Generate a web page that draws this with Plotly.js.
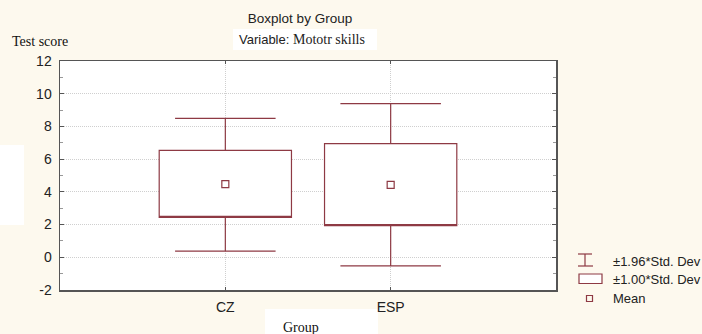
<!DOCTYPE html>
<html>
<head>
<meta charset="utf-8">
<script src="https://cdn.plot.ly/plotly-3.0.1.min.js"></script>
<style>html,body{margin:0;padding:0;background:#fdf9ee;}</style>
</head>
<body>
<div id="chart" style="width:702px;height:334px;"></div>
<script>
// Data
const groups = ['CZ', 'ESP'];
const means = [4.47, 4.43];
const sdLow = [2.44, 1.93];      // mean - 1.00*SD
const sdHigh = [6.54, 6.95];     // mean + 1.00*SD
const ciLow = [0.38, -0.53];     // mean - 1.96*SD
const ciHigh = [8.49, 9.39];     // mean + 1.96*SD
const yTicks = [-2, 0, 2, 4, 6, 8, 10, 12];
const legendLabels = ['±1.96*Std. Dev', '±1.00*Std. Dev', 'Mean'];

const RED = '#8e3a44';
const FRAME = '#555555';
const GRID = '#cfcfcf';
const W = 702, H = 334, ML = 60, MR = 146, MT = 61, MB = 44;
const PW = W - ML - MR, PH = H - MT - MB;
const px = x => (x - ML) / PW;
const py = y => (H - MB - y) / PH;

const boxTrace = {
  type: 'box',
  x: groups,
  q1: sdLow,
  median: sdLow,
  q3: sdHigh,
  lowerfence: ciLow,
  upperfence: ciHigh,
  width: 0.8,
  whiskerwidth: 0.76,
  fillcolor: '#ffffff',
  line: {color: RED, width: 1.2},
  hoverinfo: 'skip',
  showlegend: false
};

const meanTrace = {
  type: 'scatter',
  mode: 'markers',
  x: groups,
  y: means,
  marker: {symbol: 'square-open', size: 7, color: RED, line: {width: 1.2, color: RED}},
  hoverinfo: 'skip',
  showlegend: false
};

const legY = [261, 279.3, 298];
const shapes = [
  // faint white patches of the original screenshot
  {type: 'rect', xref: 'paper', yref: 'paper', x0: px(0), x1: px(24), y0: py(225), y1: py(145), fillcolor: '#ffffff', line: {width: 0}, layer: 'below'},
  {type: 'rect', xref: 'paper', yref: 'paper', x0: px(233), x1: px(377), y0: py(50), y1: py(29), fillcolor: '#ffffff', line: {width: 0}, layer: 'below'},
  {type: 'rect', xref: 'paper', yref: 'paper', x0: px(265), x1: px(378), y0: py(334), y1: py(309), fillcolor: '#ffffff', line: {width: 0}, layer: 'below'},
  // legend icons
  {type: 'line', xref: 'paper', yref: 'paper', x0: px(578), x1: px(592), y0: py(254), y1: py(254), line: {color: RED, width: 1.2}},
  {type: 'line', xref: 'paper', yref: 'paper', x0: px(578), x1: px(593), y0: py(266), y1: py(266), line: {color: RED, width: 1.2}},
  {type: 'line', xref: 'paper', yref: 'paper', x0: px(585), x1: px(585), y0: py(254), y1: py(266), line: {color: RED, width: 1.2}},
  {type: 'rect', xref: 'paper', yref: 'paper', x0: px(579), x1: px(602), y0: py(283.5), y1: py(274), fillcolor: '#ffffff', line: {color: RED, width: 1.2}},
  {type: 'rect', xref: 'paper', yref: 'paper', x0: px(586.5), x1: px(592.5), y0: py(301.5), y1: py(295.5), fillcolor: 'rgba(0,0,0,0)', line: {color: RED, width: 1.2}}
];

const annotations = [
  {xref: 'paper', yref: 'paper', x: px(302), y: py(39), xanchor: 'center', yanchor: 'middle', showarrow: false,
   text: 'Variable: <span style="font-family:\'Liberation Serif\',serif;font-size:14px">Mototr skills</span>',
   font: {family: 'Liberation Sans, Arial, sans-serif', size: 13, color: '#222'}},
  {xref: 'paper', yref: 'paper', x: px(10), y: py(42), xanchor: 'left', yanchor: 'middle', showarrow: false,
   text: 'Test score', font: {family: 'Liberation Serif, serif', size: 14, color: '#111'}},
  {xref: 'paper', yref: 'paper', x: px(301), y: py(327), xanchor: 'center', yanchor: 'middle', showarrow: false,
   text: 'Group', font: {family: 'Liberation Serif, serif', size: 14, color: '#111'}}
];
legendLabels.forEach((t, i) => annotations.push({
  xref: 'paper', yref: 'paper', x: px(611), y: py(legY[i]), xanchor: 'left', yanchor: 'middle', showarrow: false,
  text: t, font: {family: 'Liberation Sans, Arial, sans-serif', size: 13, color: '#222'}
}));

const layout = {
  width: W, height: H,
  margin: {l: ML, r: MR, t: MT, b: MB, pad: 0},
  paper_bgcolor: '#fdf9ee',
  plot_bgcolor: '#ffffff',
  title: {text: 'Boxplot by Group', xref: 'container', yref: 'container', x: 300 / W, y: 1 - 18 / H,
          xanchor: 'center', yanchor: 'middle', font: {family: 'Liberation Sans, Arial, sans-serif', size: 13.5, color: '#222'}},
  font: {family: 'Liberation Sans, Arial, sans-serif', color: '#222'},
  xaxis: {
    type: 'category', range: [-1, 2],
    showline: true, mirror: 'ticks', linecolor: FRAME, linewidth: 1.5,
    ticks: 'inside', ticklen: 3, tickcolor: FRAME,
    showgrid: true, gridcolor: GRID, griddash: '1px,1px', gridwidth: 1,
    tickfont: {size: 14, color: '#222'}, ticklabelstandoff: 4,
    zeroline: false, fixedrange: true
  },
  yaxis: {
    range: [-2, 12], tickvals: yTicks, ticktext: yTicks.map(String),
    showline: true, mirror: 'ticks', linecolor: FRAME, linewidth: 1.5,
    ticks: 'inside', ticklen: 4, tickcolor: FRAME,
    minor: {dtick: 1, tick0: 0, ticks: 'inside', ticklen: 3, tickcolor: '#999', showgrid: false},
    showgrid: true, gridcolor: GRID, griddash: '1px,1px', gridwidth: 1,
    tickfont: {size: 14, color: '#222'}, ticklabelstandoff: 4,
    zeroline: false, fixedrange: true
  },
  shapes: shapes,
  annotations: annotations,
  showlegend: false
};

Plotly.newPlot('chart', [boxTrace, meanTrace], layout, {displayModeBar: false, staticPlot: true});
</script>
</body>
</html>
